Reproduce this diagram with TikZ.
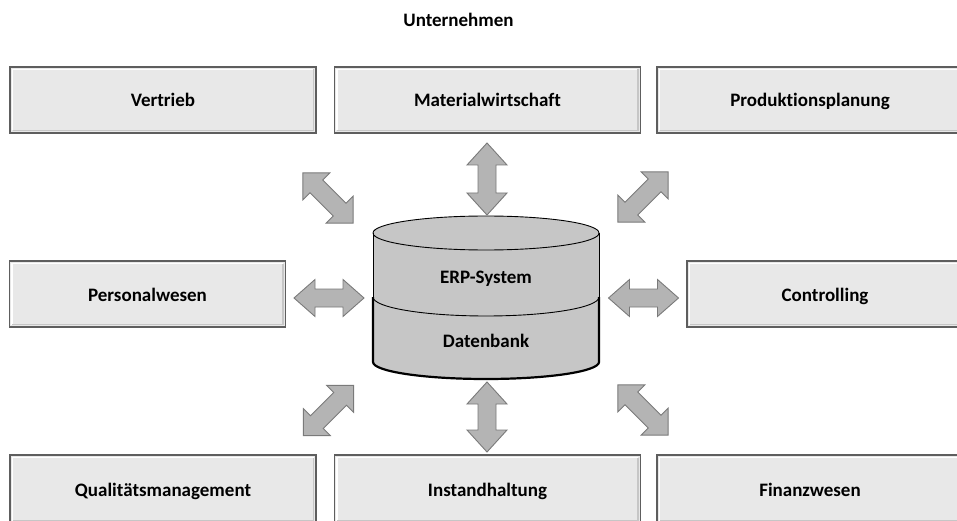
\documentclass[tikz,border=0pt]{standalone}
\usepackage{fontspec}
\setmainfont{Carlito}[Ligatures=NoCommon]
\definecolor{boxfill}{HTML}{E8E8E8}
\definecolor{boxline}{HTML}{5E5E5E}
\definecolor{cylfill}{HTML}{C6C6C6}
\definecolor{arrfill}{HTML}{B4B4B4}
\definecolor{arrline}{HTML}{7A7A7A}
\newcommand{\dblarrow}[6]{% cx, cy, angle, length, headhalf, headlen
  \begin{scope}[shift={(#1,#2)},rotate=#3]
    \pgfmathsetmacro{\aa}{#4/2}
    \pgfmathsetmacro{\bb}{#4/2-#6}
    \draw[arrowshape] (-\aa,0) -- (-\bb,#5) -- (-\bb,9) -- (\bb,9) -- (\bb,#5) -- (\aa,0)
      -- (\bb,-#5) -- (\bb,-9) -- (-\bb,-9) -- (-\bb,-#5) -- cycle;
  \end{scope}}
\tikzset{
  txt/.style={font=\fontsize{19}{22}\selectfont\bfseries, text height=15pt, text depth=1pt},
  unit/.style={txt, draw=boxline, line width=1.2pt, fill=boxfill, inner sep=0pt,
    path picture={
      \draw[white, line width=1.4pt]
        ([xshift=2.5pt,yshift=2.5pt]path picture bounding box.south west) --
        ([xshift=2.5pt,yshift=-2.5pt]path picture bounding box.north west) --
        ([xshift=-2.5pt,yshift=-2.5pt]path picture bounding box.north east);
      \draw[gray!45, line width=1.4pt]
        ([xshift=2.5pt,yshift=2.5pt]path picture bounding box.south west) --
        ([xshift=-2.5pt,yshift=2.5pt]path picture bounding box.south east) --
        ([xshift=-2.5pt,yshift=-2.5pt]path picture bounding box.north east);
    }},
  wide/.style={unit, minimum width=306pt, minimum height=66pt},
  mid/.style={unit, minimum width=276pt, minimum height=66pt},
  label/.style={txt, inner sep=0pt},
  arrowshape/.style={fill=arrfill, draw=arrline, line width=0.9pt, line join=miter},
}
\begin{document}
\begin{tikzpicture}[x=1pt,y=-1pt]
\useasboundingbox (0,0) rectangle (957,521);
% title
\node[label] (title) at (458.5,20) {Unternehmen};
% top row
\node[wide] (vertrieb) at (163,100) {Vertrieb};
\node[wide] (material) at (487.5,100) {Materialwirtschaft};
\node[wide] (produktion) at (810,100) {Produktionsplanung};
% middle row
\node[mid] (personal) at (147.5,294) {Personalwesen};
\node[mid] (controlling) at (825,294) {Controlling};
% bottom row
\node[wide, minimum height=68pt] (qualitaet) at (163,489) {Qualitätsmanagement};
\node[wide, minimum height=68pt] (instand) at (487.5,489) {Instandhaltung};
\node[wide, minimum height=68pt] (finanz) at (810,489) {Finanzwesen};
% cylinder
\fill[cylfill] (373,233) -- (373,362) arc[start angle=180, end angle=0, x radius=113, y radius=17]
  -- (599,233) arc[start angle=0, end angle=-180, x radius=113, y radius=17] -- cycle;
\draw[black, line width=0.9pt] (486,233) ellipse[x radius=113, y radius=17];
\draw[black, line width=0.9pt] (373,233) -- (373,297);
\draw[black, line width=0.9pt] (599,233) -- (599,297);
\draw[black, line width=0.9pt] (373,297) arc[start angle=180, end angle=0, x radius=113, y radius=19];
\draw[black, line width=2.2pt] (373,297) -- (373,362)
  arc[start angle=180, end angle=0, x radius=113, y radius=17] -- (599,297);
\node[label] (erp) at (486,276) {ERP-System};
\node[label] (db) at (486,340) {Datenbank};
% arrows
\dblarrow{487}{179}{90}{72}{20}{22}
\dblarrow{487}{417}{90}{70}{20}{22}
\dblarrow{329}{298}{0}{70}{18.5}{21}
\dblarrow{643.5}{298}{0}{70}{18.5}{21}
\dblarrow{328}{198}{-45}{71}{19}{19}
\dblarrow{643}{197}{45}{71}{19}{19}
\dblarrow{328.5}{410.5}{45}{71}{19}{19}
\dblarrow{643}{410}{-45}{71}{19}{19}
\end{tikzpicture}
\end{document}
